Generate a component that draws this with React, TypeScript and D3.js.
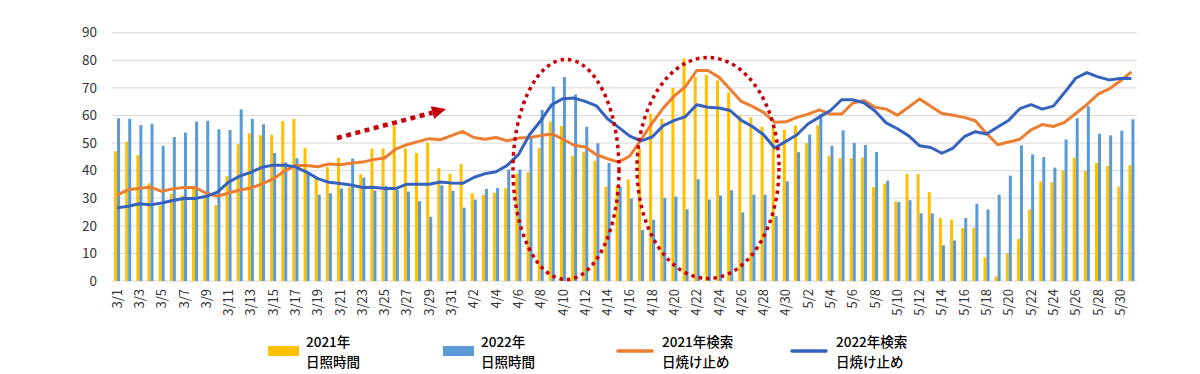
import React from "react";
import * as d3 from "d3";

// categories: one per day, 3/1 .. 5/31
const dates = [
  "3/1","3/2","3/3","3/4","3/5","3/6","3/7","3/8","3/9","3/10","3/11","3/12","3/13","3/14","3/15","3/16",
  "3/17","3/18","3/19","3/20","3/21","3/22","3/23","3/24","3/25","3/26","3/27","3/28","3/29","3/30","3/31",
  "4/1","4/2","4/3","4/4","4/5","4/6","4/7","4/8","4/9","4/10","4/11","4/12","4/13","4/14","4/15",
  "4/16","4/17","4/18","4/19","4/20","4/21","4/22","4/23","4/24","4/25","4/26","4/27","4/28","4/29","4/30",
  "5/1","5/2","5/3","5/4","5/5","5/6","5/7","5/8","5/9","5/10","5/11","5/12","5/13","5/14","5/15","5/16",
  "5/17","5/18","5/19","5/20","5/21","5/22","5/23","5/24","5/25","5/26","5/27","5/28","5/29","5/30","5/31",
];

// 2021年 日照時間 (bars, yellow)
const sun2021 = [
  47, 50.5, 45.6, 35.4, 27.3, 31.6, 31, 33.5, 30.3, 27.6, 38.1, 49.6, 53.5, 52.8, 53, 58,
  58.8, 48.2, 37.4, 41.4, 44.6, 34, 38.7, 48, 48, 56.4, 48, 46.4, 50.2, 41, 38.9,
  42.4, 31.8, 31.2, 32, 33.7, 38.9, 39.4, 48.2, 57.8, 56.2, 45.4, 46.8, 43.6, 34.2, 34.4,
  36.8, 48, 60.5, 58.8, 69.9, 80.6, 74.1, 74.7, 72.7, 68.3, 59.9, 59.3, 56, 55.8, 54.8,
  56.3, 50, 56.5, 45.4, 44.5, 44.5, 44.8, 34, 35.3, 28.8, 38.8, 38.8, 32.2, 22.8, 22.3, 19.2,
  19.3, 8.6, 1.7, 10.1, 15.2, 25.9, 36.1, 35.8, 40.1, 44.7, 39.8, 42.8, 41.7, 34.2, 41.9,
];

// 2022年 日照時間 (bars, blue)
const sun2022 = [
  59, 58.8, 56.5, 57, 49, 52.2, 53.8, 57.8, 58.1, 55, 54.7, 62.2, 58.8, 56.8, 46.4, 43,
  44.5, 39, 31.3, 31.8, 33.5, 44.4, 37.5, 32.8, 34.5, 33, 32.4, 28.9, 23.3, 34.7, 32.7,
  26.6, 29.5, 33.4, 33.7, 40.4, 40.4, 51.8, 62, 70.5, 73.9, 67.6, 55.9, 49.9, 42.8, 34.3,
  29.9, 18.5, 22.2, 30.1, 30.6, 26, 36.9, 29.5, 31, 32.9, 24.9, 31.3, 31.3, 23.5, 36.1,
  46.7, 53.1, 60.6, 49, 54.6, 50, 49.3, 46.8, 36.4, 28.6, 29.3, 24.5, 24.5, 12.9, 14.7, 22.8,
  28, 25.9, 31.3, 38.2, 49.2, 45.9, 44.9, 41.1, 51.3, 59, 63.3, 53.4, 52.8, 54.5, 58.6,
];

// 2021年検索 日焼け止め (line, orange)
const search2021 = [
  31.1, 33.1, 33.6, 34, 32.5, 33.4, 33.9, 33.9, 31.8, 30.7, 31.9, 33, 33.7, 35.2, 37, 39.8,
  41.9, 41.9, 41.4, 42.4, 42.1, 42.7, 43.1, 44, 44.6, 47.8, 49.4, 50.5, 51.6, 51.2, 52.7,
  54.2, 52, 51.4, 52, 50.8, 51.8, 52, 52.7, 53.3, 51.4, 49.2, 48.6, 45.8, 44.3, 43.1,
  45.3, 51.2, 57.2, 62.7, 67.1, 70.5, 76.3, 76.3, 73.9, 69.5, 65.1, 63.3, 61.1, 57.5, 57.7,
  59.3, 60.5, 62, 60.5, 60.5, 64.5, 65.4, 63, 62.3, 60.1, 63, 66, 63.3, 60.7, 60.1, 59.3,
  58.1, 53.5, 49.4, 50.4, 51.4, 54.8, 56.7, 56, 57.5, 60.7, 63.9, 67.7, 69.6, 72.5, 75.8,
];

// 2022年検索 日焼け止め (line, blue)
const search2022 = [
  26.5, 27.1, 28, 27.6, 28.3, 29.2, 29.9, 29.9, 30.7, 32.2, 35.8, 38, 39.4, 41.2, 42, 42,
  41.4, 39.5, 37.1, 35.8, 35.3, 34.8, 33.9, 34, 33.5, 33.5, 35.1, 35.1, 35.1, 35.9, 35.5,
  35.4, 37.5, 38.9, 39.6, 41.9, 45.8, 53, 58.1, 63.9, 66.1, 66.3, 65.1, 63.5, 58.8, 55.7,
  52.5, 50.8, 52.2, 56.3, 58.2, 59.6, 63.9, 63, 62.7, 61.8, 58.2, 56, 53, 48.2, 50.6,
  53, 57, 59.4, 61.8, 65.7, 65.7, 64.6, 61.6, 57.3, 55.2, 52.7, 49, 48.4, 46.3, 48.2, 52.3,
  54.1, 53.3, 55.8, 58.3, 62.5, 63.9, 62.3, 63.4, 68.3, 73.5, 75.5, 74, 72.9, 73.4, 73.4,
];

const yTicks = [0, 10, 20, 30, 40, 50, 60, 70, 80, 90];
const xTickLabels = dates.filter((_, i) => i % 2 === 0);

const C_Y21 = "#FFC000";
const C_B22 = "#5B9BD5";
const C_O21 = "#ED7D31";
const C_L22 = "#3462BE";
const RED = "#C8000A";
const FONT = "'Noto Sans CJK JP', 'Noto Sans', sans-serif";

export default function App() {
  const W = 1200, H = 374;
  const m = { l: 111.5, r: 1137, t: 32.7, b: 281 };

  const x = d3.scaleBand<string>().domain(dates).range([m.l, m.r]).paddingInner(0.46).paddingOuter(0.23);
  const x1 = d3.scaleBand<string>().domain(["a", "b"]).range([0, x.bandwidth()]);
  const y = d3.scaleLinear().domain([0, 90]).range([m.b, m.t]);
  const cx = (d: string) => (x(d) as number) + x.bandwidth() / 2;

  const line = d3.line<number>().x((_, i) => cx(dates[i])).y((v) => y(v));

  // arrow (annotation)
  const a0 = [337, 138], a1 = [446, 109];
  const ang = Math.atan2(a1[1] - a0[1], a1[0] - a0[0]);
  const hl = 14, hw = 6.5;
  const bx = a1[0] - hl * Math.cos(ang), by = a1[1] - hl * Math.sin(ang);
  const head = [
    [a1[0], a1[1]],
    [bx + hw * Math.sin(ang), by - hw * Math.cos(ang)],
    [bx - hw * Math.sin(ang), by + hw * Math.cos(ang)],
  ];

  const legend = [
    { x: 268, kind: "bar", color: C_Y21, l1: "2021年", l2: "日照時間" },
    { x: 443, kind: "bar", color: C_B22, l1: "2022年", l2: "日照時間" },
    { x: 618, kind: "line", color: C_O21, l1: "2021年検索", l2: "日焼け止め" },
    { x: 792, kind: "line", color: C_L22, l1: "2022年検索", l2: "日焼け止め" },
  ];

  return (
    <svg width={W} height={H} style={{ position: "absolute", left: 0, top: 0, background: "#fff" }} fontFamily={FONT}>
      {/* grid */}
      {yTicks.map((t) => (
        <g key={t}>
          <line x1={m.l} x2={m.r} y1={y(t)} y2={y(t)} stroke="#d9d9d9" strokeWidth={1} />
          <text x={97} y={y(t)} dy="0.35em" textAnchor="end" fontSize={13.5} fill="#333">{t}</text>
        </g>
      ))}

      {/* bars */}
      {dates.map((d, i) => (
        <g key={d}>
          <rect x={(x(d) as number) + (x1("a") as number)} y={y(sun2021[i])} width={x1.bandwidth()} height={y(0) - y(sun2021[i])} fill={C_Y21} />
          <rect x={(x(d) as number) + (x1("b") as number)} y={y(sun2022[i])} width={x1.bandwidth()} height={y(0) - y(sun2022[i])} fill={C_B22} />
        </g>
      ))}

      {/* lines */}
      <path d={line(search2021) || ""} fill="none" stroke={C_O21} strokeWidth={3} strokeLinejoin="round" />
      <path d={line(search2022) || ""} fill="none" stroke={C_L22} strokeWidth={3} strokeLinejoin="round" />

      {/* x labels */}
      {xTickLabels.map((d) => (
        <text key={d} transform={`translate(${cx(d)},${289}) rotate(-90)`} dy="0.35em" textAnchor="end" fontSize={13} fill="#333">{d}</text>
      ))}

      {/* annotations */}
      <ellipse cx={566} cy={169.5} rx={53} ry={110} fill="none" stroke={RED} strokeWidth={3.5} strokeDasharray="3.5 4" />
      <ellipse cx={708} cy={168} rx={71} ry={110.5} fill="none" stroke={RED} strokeWidth={3.5} strokeDasharray="3.5 4" />
      <line x1={a0[0]} y1={a0[1]} x2={bx} y2={by} stroke={RED} strokeWidth={4.5} strokeDasharray="5 4.5" />
      <polygon points={head.map((p) => p.join(",")).join(" ")} fill={RED} />

      {/* legend */}
      {legend.map((it) => {
        const tx = it.x + (it.kind === "bar" ? 38 : 44);
        return (
          <g key={it.l1 + it.color}>
            {it.kind === "bar"
              ? <rect x={it.x} y={346} width={31} height={10} fill={it.color} />
              : <line x1={it.x} x2={it.x + 34} y1={351} y2={351} stroke={it.color} strokeWidth={3.5} strokeLinecap="round" />}
            <text x={tx} y={346.5} fontSize={13.5} fontWeight={500} fill="#000">{it.l1}</text>
            <text x={tx} y={366.5} fontSize={13.5} fontWeight={500} fill="#000">{it.l2}</text>
          </g>
        );
      })}
    </svg>
  );
}
